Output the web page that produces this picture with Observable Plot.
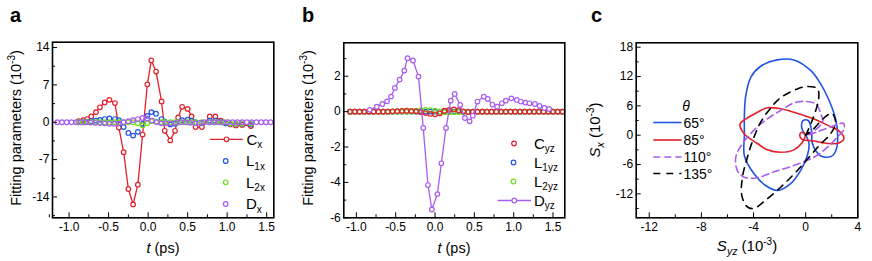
<!DOCTYPE html>
<html><head><meta charset="utf-8">
<script src="https://cdn.jsdelivr.net/npm/d3@7"></script>
<script src="https://cdn.jsdelivr.net/npm/@observablehq/plot@0.6"></script>
<style>
body{margin:0;background:#fff;}
#root{position:relative;width:872px;height:261px;overflow:hidden;font-family:"Liberation Sans",Arial,sans-serif;}
#root > svg, #root > figure{position:absolute;top:0;margin:0;}
</style></head><body><div id="root"></div>
<script>
// ---------- Panel a data ----------
const T_CX = [-0.88,-0.82,-0.77,-0.72,-0.66,-0.61,-0.55,-0.49,-0.42,-0.37,-0.31,-0.25,-0.19,-0.13,-0.07,-0.01,0.04,0.10,0.17,0.21,0.28,0.34,0.38,0.43,0.50,0.55,0.60,0.68,0.78,0.85,0.92,0.98,1.04,1.11,1.19,1.30];
const CX   = [0.2,0.4,0.6,1.1,1.9,2.8,3.7,4.2,3.6,-1.0,-5.6,-12.5,-15.4,-11.7,-2.3,7.1,11.6,9.5,3.9,-1.6,-3.4,-1.6,0.9,2.9,2.5,1.1,-0.9,-0.9,1.1,1.1,0.3,-0.2,-0.4,-0.6,-0.5,-0.7];
const L1X  = [0,0,0.1,0.2,0.3,0.45,0.6,0.7,0.6,0.4,-0.9,-2.0,-2.5,-1.8,-0.3,1.2,1.9,1.6,0.6,0.1,-0.4,-0.3,0,0.4,0.5,0.3,0,-0.1,0.3,0.3,0.1,-0.2,-0.3,-0.3,-0.3,-0.4];
const L2X  = [0,0,0,0,0,0,0,0,0,0,0,0,0,-0.2,-0.6,-0.2,0.2,0.1,0,0,0,0,0,0,0,0,0,0,0,0,0,0,-0.25,-0.25,-0.25,-0.25];
const T_DX = [-1.15,-1.09,-1.03,-0.97,-0.91,-0.85,-0.79,-0.73,-0.67,-0.61,-0.55,-0.49,-0.43,-0.37,-0.31,-0.25,-0.19,-0.13,-0.07,-0.01,0.05,0.11,0.17,0.23,0.29,0.35,0.41,0.47,0.53,0.59,0.65,0.71,0.77,0.83,0.89,0.95,1.01,1.07,1.13,1.19,1.25,1.31,1.37,1.43,1.49,1.55];
const DX   = [0,0,0,0,0,0,0,-0.05,-0.1,-0.15,-0.2,-0.3,-0.3,-0.2,0,0.2,0.4,0.6,0.8,0.7,0.3,0,-0.2,-0.2,-0.2,-0.1,0,0,-0.1,-0.2,-0.1,0,0,0,0,0,0,0,0,0,0,0,0,0,0,0];

// ---------- Panel b data ----------
const T_YZ = [-1.08,-1.02,-0.96,-0.90,-0.84,-0.78,-0.72,-0.66,-0.60,-0.54,-0.48,-0.42,-0.36,-0.30,-0.24,-0.18,-0.12,-0.06,0.00,0.06,0.12,0.18,0.24,0.30,0.36,0.42,0.48,0.54,0.60,0.66,0.72,0.78,0.84,0.90,0.96,1.02,1.08,1.14,1.20,1.26,1.32,1.38,1.44,1.50,1.56,1.62];
const CYZ  = [0,0,0,0,0,0,0,0,0,0.02,0.03,0.04,0.05,0.04,0.02,-0.03,-0.08,-0.13,-0.15,-0.1,0.05,0.1,0.12,0.08,0.02,-0.02,-0.02,0,0,0,0,0,0,0,0,0,0,0,0,0,0,0,0,0,0,0];
const L1YZ = [0,0,0,0,0,0,0,0,0,0,0,0,0,0,0,0,0,0,0,0,0,0,0,0,0,0,0,0,0,0,0,0,0,0,0,0,0,0,0,0,0,0,0,0,0,0];
const L2YZ = [0,0,0,0,0,0,0,0,0,0,0,0,0,0,0.05,0.08,0.1,0.08,0.05,0,-0.03,-0.03,-0.03,-0.03,-0.03,0,0,0,0,0,0,0,0,0,0,0,0,0,0,0,0,0,0,0,0,0];
const T_DYZ = [-0.83,-0.74,-0.67,-0.61,-0.56,-0.51,-0.45,-0.39,-0.35,-0.28,-0.21,-0.15,-0.09,-0.04,0.03,0.08,0.14,0.2,0.25,0.32,0.38,0.44,0.48,0.54,0.62,0.67,0.73,0.79,0.85,0.9,0.97,1.04,1.09,1.15,1.2,1.27,1.33,1.39,1.45];
const DYZ   = [0.1,0.28,0.43,0.58,0.85,1.34,1.81,2.32,3.02,2.89,1.98,-0.92,-4.15,-5.53,-4.66,-2.92,-0.92,0.62,1.0,0.38,-0.36,-0.55,-0.23,0.57,0.85,0.72,0.4,0.28,0.47,0.62,0.75,0.66,0.57,0.51,0.47,0.43,0.32,0.21,0.15];

// ---------- Panel c data (S_yz, S_x in 1e-3) ----------
const SYZ_65 = [0,-0.3,-0.2,0.2,0.45,0.5,0.8,1.2,1.7,2.1,2.4,2.45,2.3,1.8,1.15,0.4,-0.9,-2.2,-3.45,-4.2,-4.6,-4.7,-4.7,-4.7,-3.96,-3.07,-2.17,-1.15,-0.38,0.13,0.26,0.1,0];
const SX_65  = [0,1.5,3.0,3.0,1.0,-1.5,-3.3,-4.3,-4.5,-4.1,-2.4,0.3,3.3,7.1,10.5,13.2,15.4,15.4,14.1,11.9,8,4,0,-4.2,-7.9,-10.3,-11.3,-9.9,-7.2,-4.15,-1.76,-0.5,0];
const SYZ_85 = [0,-0.3,-0.45,-0.3,0.3,0.64,1.79,2.55,2.94,2.55,1.79,0.64,-0.9,-1.92,-2.94,-3.7,-4.6,-5.03,-4.72,-3.7,-2.94,-1.92,-0.9,-0.26,0];
const SX_85  = [0,0.6,0.1,-0.8,-1.1,-1.2,-1.7,-1.6,-0.6,0.9,1.9,3.3,4.7,5.4,5.6,4.7,3.3,2.3,0.28,-1.7,-3.0,-3.5,-3.0,-1.5,0];
const SYZ_110 = [0,0.8,1.3,1.15,0.77,-0.64,-1.92,-3.45,-4.85,-5.36,-5.23,-4.72,-3.7,-2.43,-0.9,0.64,1.66,2.43,2.94,2.9,2.2,1.2,0.4,0];
const SX_110  = [0,1.2,2.8,4.5,6.4,6.8,5.05,2.3,-1.76,-4.5,-7.3,-8.6,-8.7,-7.5,-6.2,-4.5,-2.5,-0.4,1.2,2.4,2.0,1.0,0.2,0];
const SYZ_135 = [0,0.5,1.0,0.9,0.13,-0.6,-1.9,-2.7,-3.45,-4.06,-4.47,-4.85,-4.9,-4.5,-4.0,-3.07,-1.9,-0.77,0.26,1.15,1.92,2.3,2.0,1.4,0.5,0];
const SX_135  = [0,3,7.5,9.5,9.96,9.5,7.7,5.5,2.66,-1.1,-4.5,-8.6,-12.3,-14.6,-15,-13.3,-10.6,-7.6,-4.5,-1.8,0.3,2.5,4.5,3.5,1,0];

const RED = "#e3202a", BLUE = "#2152e6", GREEN = "#6ee01e", PURPLE = "#a95cf0", BLACK = "#000";

const rows = (xs, ys, kx, ky) => xs.map((x, i) => ({[kx]: x, [ky]: ys[i]}));
const root = document.getElementById("root");
const FONT = "'Liberation Sans', Arial, sans-serif";

function axes({xMajor, xMinor, yMajor, yMinor, xFmt, yFmt}) {
  return [
    Plot.axisX(xMinor, {anchor: "bottom", tickSize: -3, text: null, label: null}),
    Plot.axisX(xMajor, {anchor: "bottom", tickSize: -5, tickPadding: 0, text: null, label: null}),
    Plot.axisX(xMajor, {anchor: "bottom", tickSize: 0, tickPadding: 5, tickFormat: xFmt, label: null, fontSize: 12}),
    Plot.axisY(yMinor, {anchor: "left", tickSize: -3, text: null, label: null}),
    Plot.axisY(yMajor, {anchor: "left", tickSize: -5, text: null, label: null}),
    Plot.axisY(yMajor, {anchor: "left", tickSize: 0, tickPadding: 3, tickFormat: yFmt, label: null, fontSize: 12}),
    Plot.frame({stroke: "black", strokeWidth: 1.6})
  ];
}

function place(svg, left) { svg.style.left = left + "px"; root.appendChild(svg); }

const f1 = d => d.toFixed(1);
const f0 = d => String(d);

// Panel a
const dCx = rows(T_CX, CX, "t", "v");
place(Plot.plot({
  width: 290, height: 261, marginLeft: 52, marginRight: 16.7, marginTop: 41.7, marginBottom: 43.7,
  style: {fontFamily: FONT, fontSize: "12px", color: "black", background: "transparent", overflow: "visible"},
  x: {domain: [-1.21, 1.59]}, y: {domain: [-17.9, 15]},
  marks: [
    Plot.line(dCx, {x: "t", y: "v", stroke: RED, strokeWidth: 1.3}),
    Plot.dot(dCx, {x: "t", y: "v", r: 2.3, stroke: RED, strokeWidth: 1.2, fill: "white"}),
    Plot.dot(rows(T_CX, L1X, "t", "v"), {x: "t", y: "v", r: 2.3, stroke: BLUE, strokeWidth: 1.2}),
    Plot.dot(rows(T_CX, L2X, "t", "v"), {x: "t", y: "v", r: 2.3, stroke: GREEN, strokeWidth: 1.2}),
    Plot.dot(rows(T_DX, DX, "t", "v"), {x: "t", y: "v", r: 2.3, stroke: PURPLE, strokeWidth: 1.2}),
    ...axes({xMajor: [-1, -0.5, 0, 0.5, 1, 1.5], xMinor: [-1.25,-0.75,-0.25,0.25,0.75,1.25], yMajor: [-14,-7,0,7,14], yMinor: [-17.5,-10.5,-3.5,3.5,10.5], xFmt: f1, yFmt: f0})
  ]
}), 0);

// Panel b
const dDyz = rows(T_DYZ, DYZ, "t", "v");
place(Plot.plot({
  width: 290, height: 261, marginLeft: 53.3, marginRight: 15.7, marginTop: 42.3, marginBottom: 43.7,
  style: {fontFamily: FONT, fontSize: "12px", color: "black", background: "transparent", overflow: "visible"},
  x: {domain: [-1.16, 1.65]}, y: {domain: [-6.0, 3.89]},
  marks: [
    Plot.dot(rows(T_YZ, L1YZ, "t", "v"), {x: "t", y: "v", r: 2.3, stroke: BLUE, strokeWidth: 1.2}),
    Plot.dot(rows(T_YZ, L2YZ, "t", "v"), {x: "t", y: "v", r: 2.3, stroke: GREEN, strokeWidth: 1.2}),
    Plot.dot(rows(T_YZ, CYZ, "t", "v"), {x: "t", y: "v", r: 2.3, stroke: RED, strokeWidth: 1.2}),
    Plot.line(dDyz, {x: "t", y: "v", stroke: PURPLE, strokeWidth: 1.3}),
    Plot.dot(dDyz, {x: "t", y: "v", r: 2.3, stroke: PURPLE, strokeWidth: 1.2, fill: "white"}),
    ...axes({xMajor: [-1, -0.5, 0, 0.5, 1, 1.5], xMinor: [-0.75,-0.25,0.25,0.75,1.25], yMajor: [-6,-4,-2,0,2], yMinor: [-5,-3,-1,1,3], xFmt: f1, yFmt: f0})
  ]
}), 290);

// Panel c
place(Plot.plot({
  width: 292, height: 261, marginLeft: 55.7, marginRight: 14.7, marginTop: 42.3, marginBottom: 43.7,
  style: {fontFamily: FONT, fontSize: "12px", color: "black", background: "transparent", overflow: "visible"},
  x: {domain: [-13, 4]}, y: {domain: [-16.9, 18.9]},
  marks: [
    Plot.line(rows(SYZ_65, SX_65, "s", "v"), {x: "s", y: "v", stroke: BLUE, strokeWidth: 1.6, curve: "catmull-rom"}),
    Plot.line(rows(SYZ_85, SX_85, "s", "v"), {x: "s", y: "v", stroke: RED, strokeWidth: 1.6, curve: "catmull-rom"}),
    Plot.line(rows(SYZ_110, SX_110, "s", "v"), {x: "s", y: "v", stroke: PURPLE, strokeWidth: 1.6, strokeDasharray: "7,4", curve: "catmull-rom"}),
    Plot.line(rows(SYZ_135, SX_135, "s", "v"), {x: "s", y: "v", stroke: BLACK, strokeWidth: 1.6, strokeDasharray: "7,6", curve: "catmull-rom"}),
    ...axes({xMajor: [-12, -8, -4, 0, 4], xMinor: [-10,-6,-2,2], yMajor: [-12,-6,0,6,12,18], yMinor: [-15,-9,-3,3,9,15], xFmt: f0, yFmt: f0})
  ]
}), 580);

// ---------- Overlay: titles, panel letters, legends ----------
const NS = "http://www.w3.org/2000/svg";
const ov = document.createElementNS(NS, "svg");
ov.setAttribute("width", 872); ov.setAttribute("height", 261);
ov.style.cssText = "position:absolute;left:0;top:0;pointer-events:none;";
ov.setAttribute("font-family", FONT);
root.appendChild(ov);
const sub = (s) => `<tspan dy="3.5" font-size="10">${s}</tspan>`;
const sup = (s) => `<tspan dy="-6" font-size="10">${s}</tspan><tspan dy="6">`;
let h = "";
// panel letters
h += `<text x="10" y="22" font-size="20" font-weight="bold">a</text>`;
h += `<text x="302" y="22" font-size="20" font-weight="bold">b</text>`;
h += `<text x="591" y="22" font-size="20" font-weight="bold">c</text>`;
// y titles
h += `<text transform="translate(20.5,128) rotate(-90)" text-anchor="middle" font-size="14.5">Fitting parameters (10${sup("-3")})</tspan></text>`;
h += `<text transform="translate(313,128) rotate(-90)" text-anchor="middle" font-size="14.5">Fitting parameters (10${sup("-3")})</tspan></text>`;
h += `<text transform="translate(600,130) rotate(-90)" text-anchor="middle" font-size="15"><tspan font-style="italic">S</tspan><tspan dy="3.5" font-size="10.5" font-style="italic">x</tspan><tspan dy="-3.5"> (10</tspan>${sup("-3")})</tspan></text>`;
// x titles
h += `<text x="163" y="253" text-anchor="middle" font-size="14.5"><tspan font-style="italic">t</tspan> (ps)</text>`;
h += `<text x="454" y="253" text-anchor="middle" font-size="14.5"><tspan font-style="italic">t</tspan> (ps)</text>`;
h += `<text x="747" y="251" text-anchor="middle" font-size="15"><tspan font-style="italic">S</tspan><tspan dy="3.5" font-size="10.5" font-style="italic">yz</tspan><tspan dy="-3.5"> (10</tspan>${sup("-3")})</tspan></text>`;
// legend a
const circ = (x, y, c, fill = "none") => `<circle cx="${x}" cy="${y}" r="2.3" fill="${fill}" stroke="${c}" stroke-width="1.2"/>`;
const leg = (x, y, main, s) => `<text x="${x}" y="${y + 5.2}" font-size="15">${main}${sub(s)}</text>`;
h += `<line x1="210" x2="242.7" y1="139.3" y2="139.3" stroke="${RED}" stroke-width="1.3"/>` + circ(226.5, 139.3, RED, "white") + leg(246.5, 139.3, "C", "x");
h += circ(225.7, 161, BLUE) + leg(246, 161, "L", "1x");
h += circ(225.7, 182.3, GREEN) + leg(246, 182.3, "L", "2x");
h += circ(225.7, 204, PURPLE) + leg(246, 204, "D", "x");
// legend b
h += circ(514, 143.5, RED) + leg(534, 143.5, "C", "yz");
h += circ(513.5, 162.5, BLUE) + leg(534, 162.5, "L", "1yz");
h += circ(513.5, 181.5, GREEN) + leg(534, 181.5, "L", "2yz");
h += `<line x1="497.7" x2="531" y1="200.5" y2="200.5" stroke="${PURPLE}" stroke-width="1.3"/>` + circ(514.3, 200.5, PURPLE, "white") + leg(534, 200.5, "D", "yz");
// legend c
h += `<text x="686" y="111" text-anchor="middle" font-size="14" font-style="italic">θ</text>`;
const cl = (y, c, dash, label) => `<line x1="653.3" x2="681.5" y1="${y}" y2="${y}" stroke="${c}" stroke-width="1.6" ${dash ? `stroke-dasharray="${dash}"` : ""}/><text x="683.5" y="${y + 5}" font-size="14">${label}</text>`;
h += cl(122.5, BLUE, null, "65°");
h += cl(140, RED, null, "85°");
h += cl(157, PURPLE, "7,4", "110°");
h += cl(173.5, BLACK, "7,6", "135°");
ov.innerHTML = h;
</script></body></html>
